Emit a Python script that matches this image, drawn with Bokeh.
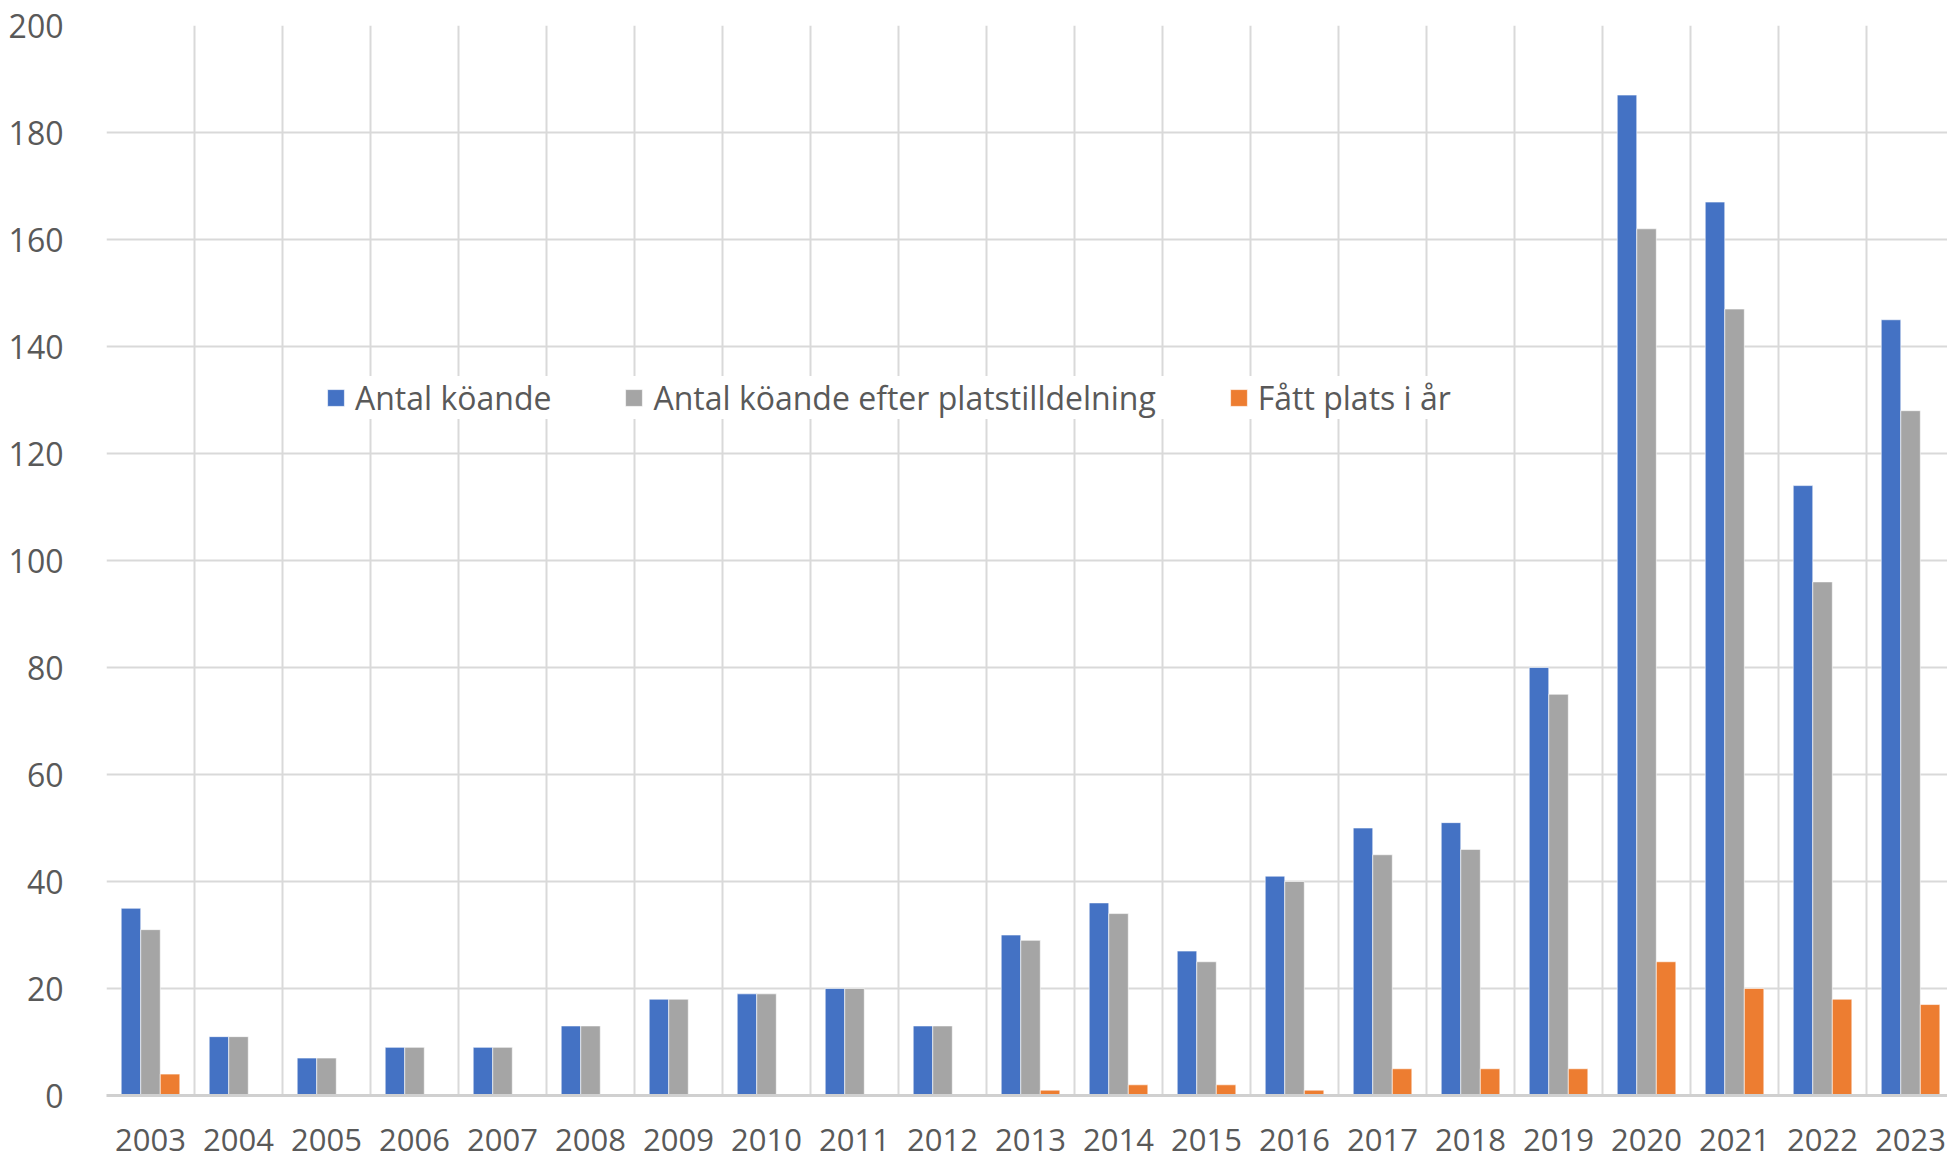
from bokeh.plotting import figure
from bokeh.models import ColumnDataSource, Range1d, FixedTicker, Legend, LegendItem
from bokeh.transform import dodge
from bokeh.embed import file_html
from bokeh.resources import INLINE

years = ["2003", "2004", "2005", "2006", "2007", "2008", "2009", "2010", "2011", "2012",
         "2013", "2014", "2015", "2016", "2017", "2018", "2019", "2020", "2021", "2022", "2023"]
antal_koande = [35, 11, 7, 9, 9, 13, 18, 19, 20, 13, 30, 36, 27, 41, 50, 51, 80, 187, 167, 114, 145]
efter_tilldelning = [31, 11, 7, 9, 9, 13, 18, 19, 20, 13, 29, 34, 25, 40, 45, 46, 75, 162, 147, 96, 128]
fatt_plats = [4, 0, 0, 0, 0, 0, 0, 0, 0, 0, 1, 2, 2, 1, 5, 5, 5, 25, 20, 18, 17]
series_names = ["Antal köande", "Antal köande efter platstilldelning", "Fått plats i år"]
y_ticks = [0, 20, 40, 60, 80, 100, 120, 140, 160, 180, 200]

n = len(years)
idx = list(range(n))
src = ColumnDataSource(data=dict(x=idx, a=antal_koande, b=efter_tilldelning, c=fatt_plats))

FONT = "Open Sans"
TXT = "#595959"
GRID = "#d9d9d9"

p = figure(width=1947, height=1159, output_backend="svg", toolbar_location=None,
           x_range=Range1d(-0.5, n - 0.58), y_range=Range1d(0, 200),
           min_border_left=106, min_border_right=0, min_border_top=25, min_border_bottom=64)
p.outline_line_color = None
p.background_fill_color = "white"
p.border_fill_color = "white"

bw = 0.222
r1 = p.vbar(x=dodge("x", -bw, range=p.x_range), top="a", width=bw, source=src,
            fill_color="#4472C4", line_color="white", line_width=0.6)
r2 = p.vbar(x=dodge("x", 0.0, range=p.x_range), top="b", width=bw, source=src,
            fill_color="#A5A5A5", line_color="white", line_width=0.6)
r3 = p.vbar(x=dodge("x", bw, range=p.x_range), top="c", width=bw, source=src,
            fill_color="#ED7D31", line_color="white", line_width=0.6)

# axes
p.xaxis.ticker = FixedTicker(ticks=idx)
p.xaxis.major_label_overrides = {i: y for i, y in enumerate(years)}
p.xaxis.major_tick_line_color = None
p.xaxis.minor_tick_line_color = None
p.xaxis.axis_line_color = "#d0d0d0"
p.xaxis.axis_line_width = 3
p.xaxis.major_label_text_font = FONT
p.xaxis.major_label_text_font_size = "31px"
p.xaxis.major_label_text_color = TXT
p.xaxis.major_label_standoff = 27

p.yaxis.ticker = FixedTicker(ticks=y_ticks)
p.yaxis.major_tick_line_color = None
p.yaxis.minor_tick_line_color = None
p.yaxis.axis_line_color = None
p.yaxis.major_label_text_font = FONT
p.yaxis.major_label_text_font_size = "32px"
p.yaxis.major_label_text_color = TXT
p.yaxis.major_label_standoff = 37

p.ygrid.grid_line_color = GRID
p.ygrid.grid_line_width = 2
p.xgrid.ticker = FixedTicker(ticks=[i - 0.5 for i in range(n + 1)])
p.xgrid.grid_line_color = GRID
p.xgrid.grid_line_width = 2

legend = Legend(items=[LegendItem(label=series_names[0], renderers=[r1]),
                       LegendItem(label=series_names[1], renderers=[r2]),
                       LegendItem(label=series_names[2], renderers=[r3])],
                orientation="horizontal", location=(219, 676))
legend.label_text_font = FONT
legend.label_text_font_size = "32px"
legend.label_text_color = TXT
legend.glyph_width = 21
legend.glyph_height = 21
legend.label_standoff = 9
legend.spacing = 72
legend.padding = 9
legend.margin = 0
legend.border_line_color = None
legend.background_fill_color = "white"
legend.background_fill_alpha = 1.0
p.add_layout(legend, "center")

open("out.html", "w").write(file_html(p, INLINE))
